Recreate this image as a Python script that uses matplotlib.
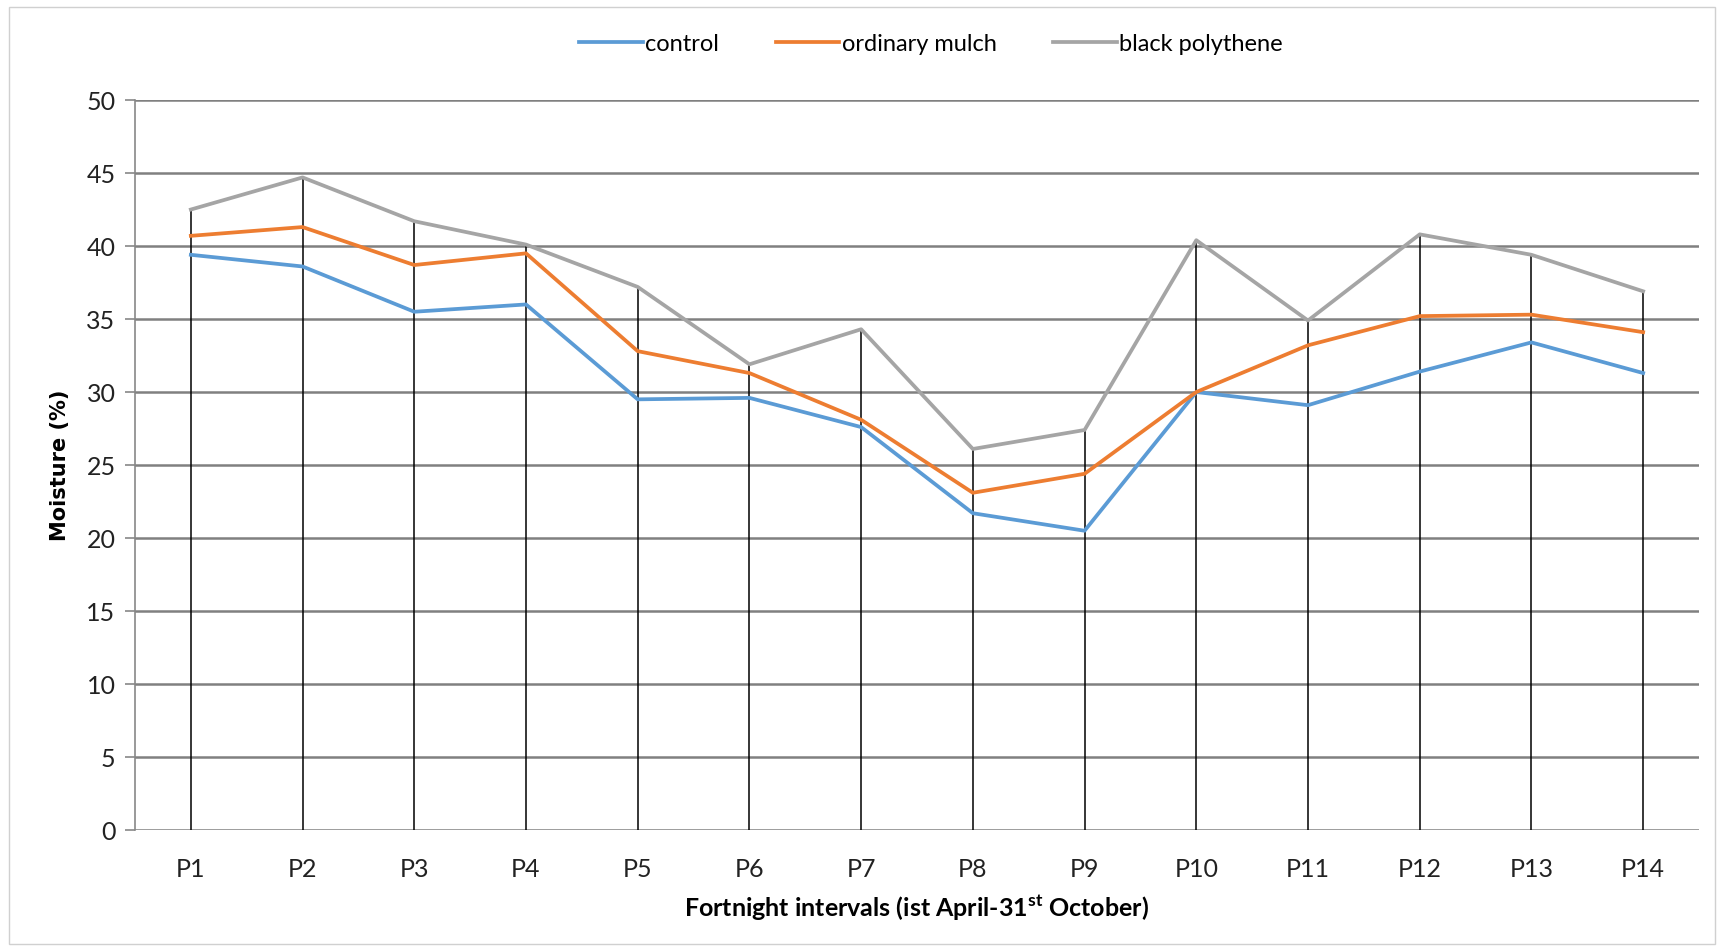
import matplotlib
matplotlib.use("Agg")
import matplotlib.pyplot as plt
from matplotlib.patches import Rectangle

# fortnight periods
periods = ['P1', 'P2', 'P3', 'P4', 'P5', 'P6', 'P7', 'P8', 'P9', 'P10', 'P11', 'P12', 'P13', 'P14']

# soil moisture (%) per treatment
control = [39.4, 38.6, 35.5, 36.0, 29.5, 29.6, 27.6, 21.7, 20.5, 30.0, 29.1, 31.4, 33.4, 31.3]
ordinary_mulch = [40.7, 41.3, 38.7, 39.5, 32.8, 31.3, 28.1, 23.1, 24.4, 30.0, 33.2, 35.2, 35.3, 34.1]
black_polythene = [42.5, 44.7, 41.7, 40.1, 37.2, 31.9, 34.3, 26.1, 27.4, 40.4, 34.9, 40.8, 39.4, 36.9]

yticks = list(range(0, 51, 5))

plt.rcParams['font.family'] = ['Lato', 'DejaVu Sans']
plt.rcParams['mathtext.fontset'] = 'custom'
plt.rcParams['mathtext.rm'] = 'Lato:bold'
plt.rcParams['mathtext.bf'] = 'Lato:bold'

fig = plt.figure(figsize=(17.24, 9.51), dpi=100)
ax = fig.add_axes([0.0783, 0.1272, 0.9072, 0.7676])

x = list(range(len(periods)))

# gridlines
for v in yticks:
    ax.axhline(v, color='#808080', lw=1.8, zorder=1)

# drop lines from the highest series down to the axis
tops = [max(a, b, c) for a, b, c in zip(control, ordinary_mulch, black_polythene)]
ax.vlines(x, 0, tops, color='black', lw=1.1, zorder=2)

ax.plot(x, control, color='#5B9BD5', lw=2.7, label='control', zorder=3)
ax.plot(x, ordinary_mulch, color='#ED7D31', lw=2.7, label='ordinary mulch', zorder=3)
ax.plot(x, black_polythene, color='#A5A5A5', lw=2.7, label='black polythene', zorder=3)

ax.set_xlim(-0.5, len(periods) - 0.5)
ax.set_ylim(0, 50)
ax.set_yticks(yticks)
ax.set_xticks(x)
ax.set_xticklabels(periods)

for s in ['top', 'right', 'bottom']:
    ax.spines[s].set_visible(False)
ax.spines['left'].set_color('#878787')
ax.spines['left'].set_linewidth(1.2)

ax.tick_params(axis='y', length=7, width=1.2, labelsize=18, pad=7, colors='#222222')
ax.tick_params(axis='y', color='#878787')
ax.tick_params(axis='x', length=0, labelsize=18, pad=20, colors='#222222')

ax.set_ylabel('Moisture (%)', fontsize=15, fontweight='bold', family='DejaVu Sans', labelpad=12)
ax.set_xlabel('Fortnight intervals (ist April-31$^{\\mathbf{st}}$ October)', fontsize=18,
              fontweight='bold', labelpad=9)

fig.legend(loc='upper center', bbox_to_anchor=(0.54, 0.987), ncol=3, frameon=False,
           fontsize=17, handlelength=2.7, handletextpad=0.1, columnspacing=2.4)

# chart area border
fig.patches.append(Rectangle((0.005, 0.007), 0.99, 0.986, transform=fig.transFigure,
                             fill=False, edgecolor='#d0d0d0', lw=1))

plt.savefig('out.png', dpi=100)
plt.close()
